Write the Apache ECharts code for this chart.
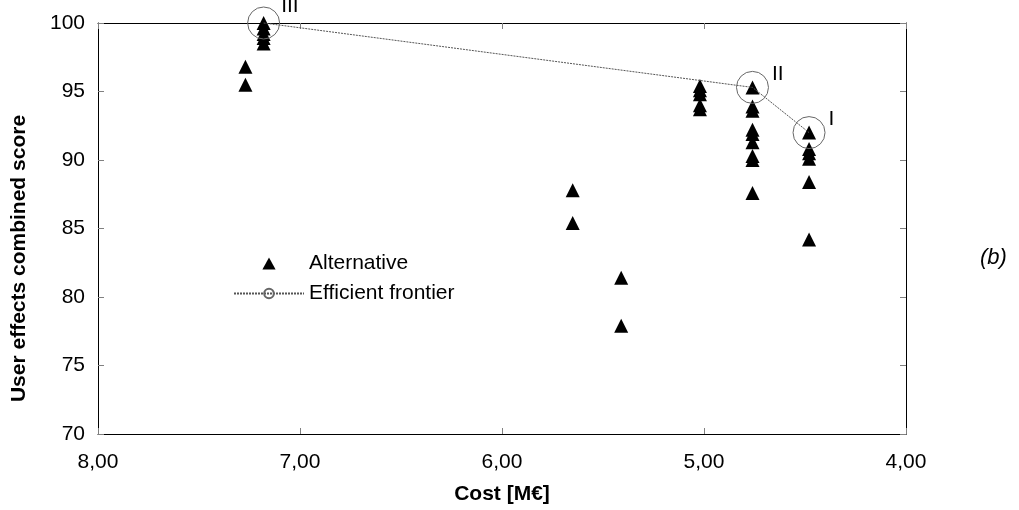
<!DOCTYPE html>
<html>
<head>
<meta charset="utf-8">
<script src="https://cdn.jsdelivr.net/npm/echarts@6/dist/echarts.min.js"></script>
<style>html,body{margin:0;padding:0;background:#fff;}#c{width:1019px;height:510px;}</style>
</head>
<body>
<div id="c"></div>
<script>
// Alternatives (cost in M€, combined score)
const altCost  = [7.27, 7.27, 7.18, 7.18, 7.18, 7.18, 7.18, 5.65, 5.65, 5.41, 5.41,
                  5.02, 5.02, 5.02, 5.02, 5.02,
                  4.76, 4.76, 4.76, 4.76, 4.76, 4.76, 4.76, 4.76, 4.76,
                  4.48, 4.48, 4.48, 4.48, 4.48, 4.48];
const altScore = [96.8, 95.5, 100, 99.6, 99.2, 98.9, 98.5, 87.8, 85.4, 81.4, 77.9,
                  95.4, 95.1, 94.8, 94.0, 93.7,
                  95.3, 93.9, 93.6, 92.2, 91.9, 91.3, 90.3, 90.0, 87.6,
                  92.0, 90.8, 90.5, 90.1, 88.4, 84.2];
// Efficient frontier
const frontCost   = [7.18, 4.76, 4.48];
const frontScore  = [100, 95.3, 92.0];
const frontLabels = ['III', 'II', 'I'];
const labelOffsets = [[-4, -17], [-2, -13], [-2, -13]];

const xTicks = {min: 4, max: 8, interval: 1};
const yTicks = {min: 70, max: 100, interval: 5};

const FONT = 'Liberation Sans';
const FS = 21;
const chart = echarts.init(document.getElementById('c'));

const tickStyle = {show: true, inside: true, length: 6, lineStyle: {color: '#808080', width: 1}};
const lineStyle = {show: true, lineStyle: {color: '#000', width: 1}};

chart.setOption({
  animation: false,
  textStyle: {fontFamily: FONT},
  grid: {left: 98, right: 113, top: 23, bottom: 74.5, containLabel: false},
  legend: {
    orient: 'vertical', left: 228, top: 248,
    itemWidth: 70, itemHeight: 12, itemGap: 9,
    symbolKeepAspect: true,
    textStyle: {fontFamily: FONT, fontSize: FS, color: '#000'},
    data: [{name: 'Alternative', icon: 'path://M0,10 L5.5,0 L11,10 Z'}, {name: 'Efficient frontier'}]
  },
  xAxis: [{
    type: 'value', inverse: true, min: xTicks.min, max: xTicks.max, interval: xTicks.interval,
    position: 'bottom',
    name: 'Cost [M€]', nameLocation: 'middle', nameGap: 50,
    nameTextStyle: {fontFamily: FONT, fontSize: FS, fontWeight: 'bold', color: '#000'},
    axisLine: lineStyle, axisTick: tickStyle, splitLine: {show: false},
    axisLabel: {margin: 18, fontFamily: FONT, fontSize: FS, color: '#000',
      formatter: v => v.toFixed(2).replace('.', ',')}
  }, {
    type: 'value', inverse: true, min: xTicks.min, max: xTicks.max, interval: xTicks.interval,
    position: 'top', axisLine: lineStyle, axisTick: tickStyle, axisLabel: {show: false}, splitLine: {show: false}
  }],
  yAxis: [{
    type: 'value', min: yTicks.min, max: yTicks.max, interval: yTicks.interval,
    position: 'left',
    name: 'User effects combined score', nameLocation: 'middle', nameGap: 68,
    nameTextStyle: {fontFamily: FONT, fontSize: FS, fontWeight: 'bold', color: '#000', padding: [0, 60, 0, 0]},
    axisLine: lineStyle, axisTick: tickStyle, splitLine: {show: false},
    axisLabel: {margin: 13, fontFamily: FONT, fontSize: FS, color: '#000'}
  }, {
    type: 'value', min: yTicks.min, max: yTicks.max, interval: yTicks.interval,
    position: 'right', axisLine: lineStyle, axisTick: tickStyle, axisLabel: {show: false}, splitLine: {show: false}
  }],
  series: [{
    name: 'Alternative', type: 'scatter', clip: false,
    symbol: 'triangle', symbolSize: [14, 14],
    itemStyle: {color: '#000', opacity: 1},
    data: altCost.map((c, i) => [c, altScore[i]]),
    z: 3
  }, {
    name: 'Efficient frontier', type: 'line', clip: false,
    symbol: 'circle', symbolSize: 32, showAllSymbol: true,
    lineStyle: {color: '#555', width: 1, type: [2, 1]},
    itemStyle: {color: 'rgba(0,0,0,0)', borderColor: '#666', borderWidth: 1},
    data: frontCost.map((c, i) => ({
      value: [c, frontScore[i]],
      label: {show: true, position: 'right', offset: labelOffsets[i], formatter: frontLabels[i],
        fontFamily: FONT, fontSize: FS, color: '#000'}
    })),
    z: 4
  }],
  graphic: [{
    type: 'text', left: 980, top: 247,
    style: {text: '(b)', fontFamily: FONT, fontSize: 22, fontStyle: 'italic', fill: '#000'}
  }]
});
</script>
</body>
</html>
